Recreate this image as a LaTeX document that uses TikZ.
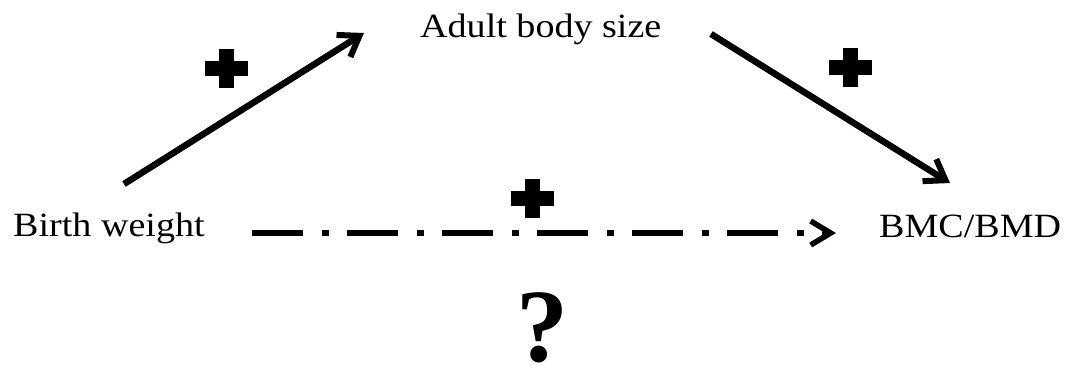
\documentclass[tikz,border=0pt]{standalone}
\usepackage{fontspec}
\setmainfont{Liberation Serif}
\usetikzlibrary{arrows.meta}
\begin{document}
\begin{tikzpicture}[x=1pt,y=-1pt,
  lbl/.style={inner sep=0pt,anchor=base west,font=\fontsize{34}{40}\selectfont},
  arr/.style={line width=6.5pt,-{Straight Barb[length=19pt,width=26pt,line width=6pt]}},
  dasharr/.style={line width=5.5pt,dash pattern=on 51pt off 19pt on 7pt off 18pt,-{Straight Barb[length=20pt,width=24pt,line width=5.5pt]}},
  plussign/.pic={\fill (-21.5,-7.5) rectangle (21.5,7.5); \fill (-7.5,-19.5) rectangle (7.5,19.5);}]
\useasboundingbox (0,0) rectangle (1068,368);
\node[lbl] (adult) at (420,37) {\scalebox{1.12}[1]{Adult body size}};
\node[lbl] (birth) at (13,236) {\scalebox{1.12}[1]{Birth weight}};
\node[lbl] (bmc) at (879,237) {\scalebox{1.12}[1]{BMC/BMD}};
\coordinate (a1s) at (124,184);
\coordinate (a1e) at (364,33);
\coordinate (a2s) at (711,34);
\coordinate (a2e) at (950,183);
\coordinate (a3s) at (252,233);
\coordinate (a3e) at (836,233);
\draw[arr] (a1s) -- (a1e);
\draw[arr] (a2s) -- (a2e);
\draw[dasharr] (a3s) -- (a3e);
\pic at (226,68) {plussign};
\pic at (850,67) {plussign};
\pic at (532,198) {plussign};
\node[inner sep=0pt,anchor=base,font=\fontsize{104}{110}\selectfont\bfseries] (q) at (542,361) {?};
\end{tikzpicture}
\end{document}
